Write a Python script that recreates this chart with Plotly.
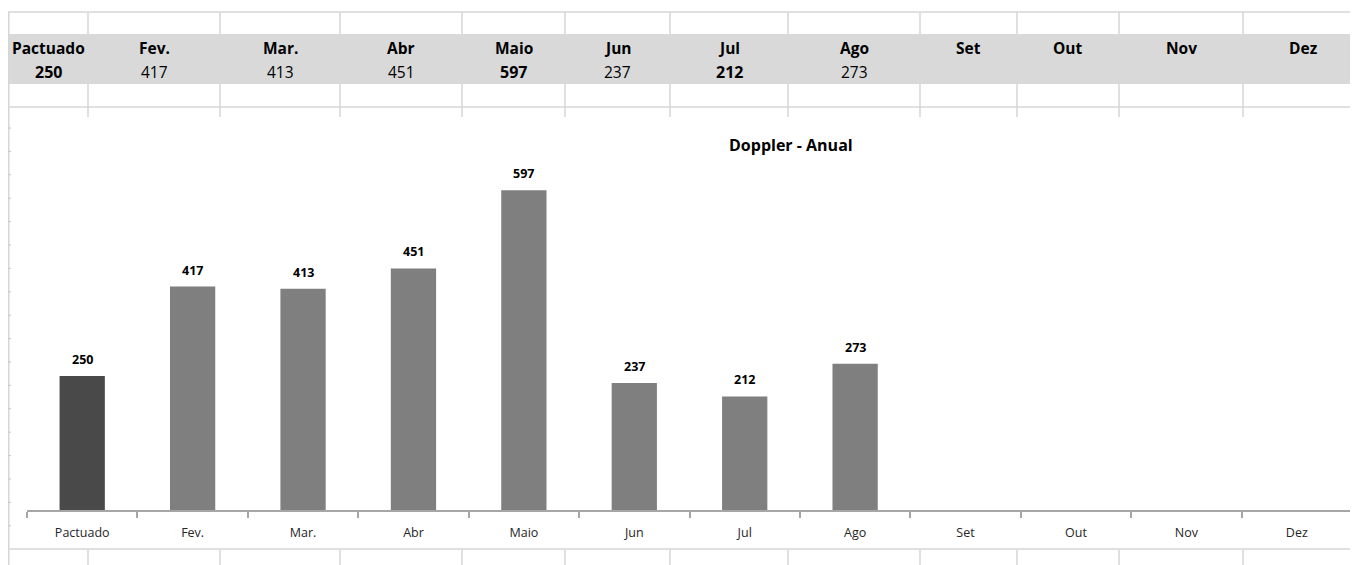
import plotly.graph_objects as go

# ---- data ----
months = ["Pactuado", "Fev.", "Mar.", "Abr", "Maio", "Jun", "Jul", "Ago",
          "Set", "Out", "Nov", "Dez"]
values = [250, 417, 413, 451, 597, 237, 212, 273, None, None, None, None]
bold_in_table = ["Pactuado", "Maio", "Jul"]
title_text = "Doppler - Anual"

# ---- page geometry (page pixels; the html body adds an 8px offset) ----
OFF = 8
FW, FH = 1350, 557
col_edges = [8, 88, 220, 340, 462, 565, 670, 788, 920, 1017, 1119, 1243, 1363]
GRID = "#d6d6d6"
FONT = "Open Sans"


def px(x):
    return (x - OFF) / FW


def py(y):
    return 1 - (y - OFF) / FH


shapes = []


def hline(y, x0=8, x1=1358):
    shapes.append(dict(type="line", xref="paper", yref="paper",
                       x0=px(x0), x1=px(x1), y0=py(y), y1=py(y),
                       line=dict(color=GRID, width=1.5), layer="below"))


def vline(x, y0, y1, color=GRID, width=1.5):
    shapes.append(dict(type="line", xref="paper", yref="paper",
                       x0=px(x), x1=px(x), y0=py(y0), y1=py(y1),
                       line=dict(color=color, width=width), layer="below"))


# header gray band
shapes.append(dict(type="rect", xref="paper", yref="paper",
                   x0=px(8), x1=px(1358), y0=py(84), y1=py(34),
                   fillcolor="#d9d9d9", line=dict(width=0), layer="below"))
hline(12)
hline(107)
hline(549)
# left border
vline(8.8, 12, 565)
# column separators
for xe in col_edges[1:-1]:
    vline(xe, 12, 34)
    vline(xe, 84, 117)
    vline(xe, 550, 565)
# small row ticks at the left edge behind chart
y = 128.0
while y < 540:
    shapes.append(dict(type="line", xref="paper", yref="paper",
                       x0=px(8), x1=px(11), y0=py(y), y1=py(y),
                       line=dict(color="#c8c8c8", width=1), layer="below"))
    y += 23.4

annotations = []
# table text
for i, m in enumerate(months):
    cx = (col_edges[i] + col_edges[i + 1]) / 2
    annotations.append(dict(xref="paper", yref="paper", x=px(cx), y=py(48),
                            text=f"<b>{m}</b>", showarrow=False,
                            xanchor="center", yanchor="middle",
                            font=dict(family=FONT, size=15.5, color="#000000")))
    v = values[i]
    if v is not None:
        bold = m in bold_in_table
        t = f"<b>{v}</b>" if bold else f"{v}"
        annotations.append(dict(xref="paper", yref="paper", x=px(cx), y=py(72),
                                text=t, showarrow=False,
                                xanchor="center", yanchor="middle",
                                font=dict(family=FONT, size=16 if bold else 15.5,
                                          color="#000000")))

# bar value labels
for m, v in zip(months, values):
    if v is None:
        continue
    annotations.append(dict(x=m, y=v, xref="x", yref="y", text=f"<b>{v}</b>",
                            showarrow=False, xanchor="center", yanchor="bottom",
                            yshift=6,
                            font=dict(family=FONT, size=12.5, color="#000000")))

# chart title
annotations.append(dict(xref="paper", yref="paper", x=px(791), y=py(145),
                        text=f"<b>{title_text}</b>", showarrow=False,
                        xanchor="center", yanchor="middle",
                        font=dict(family=FONT, size=16, color="#000000")))

colors = ["#494949"] + ["#7f7f7f"] * (len(months) - 1)

fig = go.Figure(go.Bar(x=months, y=values, marker=dict(color=colors, line=dict(width=0)),
                       width=0.41, hoverinfo="x+y"))

fig.update_layout(
    width=FW, height=FH,
    margin=dict(l=0, r=0, t=0, b=0, pad=0),
    paper_bgcolor="white", plot_bgcolor="white",
    showlegend=False,
    shapes=shapes, annotations=annotations,
    xaxis=dict(domain=[px(27), px(1352)], range=[-0.5, 11.5],
               type="category", categoryorder="array", categoryarray=months,
               showline=True, linecolor="#a6a6a6", linewidth=1.5,
               ticks="outside", tickson="boundaries", ticklen=6,
               tickcolor="#a6a6a6", tickwidth=1.5,
               showgrid=False, zeroline=False, ticklabelstandoff=10,
               tickfont=dict(family=FONT, size=12.5, color="#262626")),
    yaxis=dict(domain=[py(510), py(135)], range=[0, 700], visible=False,
               showgrid=False, zeroline=False),
)

fig.write_html("out.html")
